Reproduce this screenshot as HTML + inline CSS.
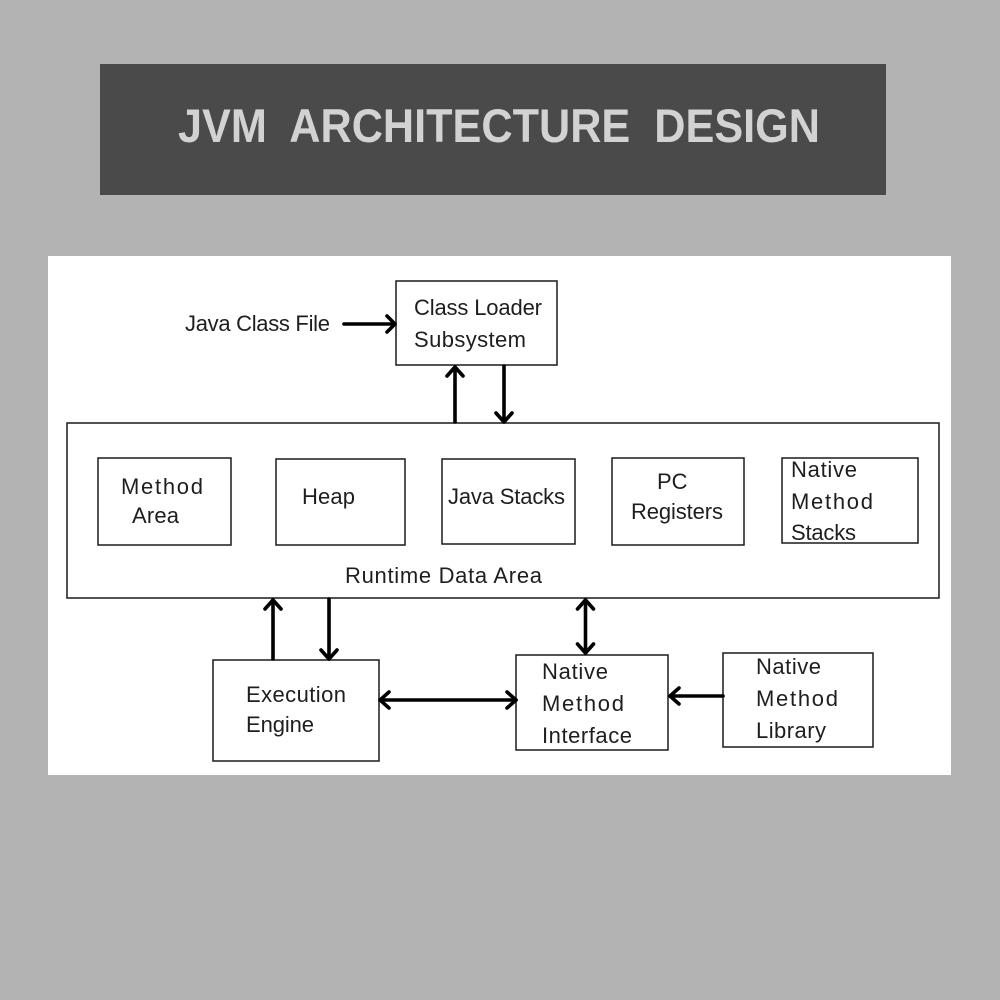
<!DOCTYPE html>
<html>
<head>
<meta charset="utf-8">
<style>
  html, body { margin: 0; padding: 0; background: #b3b3b3; }
  svg { display: block; }
  .t { font-family: "Liberation Sans", "DejaVu Sans", sans-serif; font-size: 22px; fill: #1e1e1e; }
  .box { fill: #ffffff; stroke: #1a1a1a; stroke-width: 1.5; }
  .ar { stroke: #000; stroke-width: 3.6; fill: none; stroke-linecap: round; stroke-linejoin: round; }
</style>
</head>
<body>
<svg width="1000" height="1000" viewBox="0 0 1000 1000" xmlns="http://www.w3.org/2000/svg">
  <rect x="0" y="0" width="1000" height="1000" fill="#b3b3b3"/>
  <!-- Title -->
  <rect x="100" y="64" width="786" height="131" fill="#4a4a4a"/>
  <text x="178" y="142" textLength="642" lengthAdjust="spacingAndGlyphs" style="font-family:'Liberation Sans','DejaVu Sans',sans-serif;font-weight:bold;font-size:47px;fill:#d2d2d2;" xml:space="preserve">JVM  ARCHITECTURE  DESIGN</text>

  <!-- White panel -->
  <rect x="48" y="256" width="903" height="519" fill="#ffffff"/>

  <!-- Boxes -->
  <rect class="box" x="396" y="281" width="161" height="84"/>
  <rect class="box" x="67" y="423" width="872" height="175"/>
  <rect class="box" x="98" y="458" width="133" height="87"/>
  <rect class="box" x="276" y="459" width="129" height="86"/>
  <rect class="box" x="442" y="459" width="133" height="85"/>
  <rect class="box" x="612" y="458" width="132" height="87"/>
  <rect class="box" x="782" y="458" width="136" height="85"/>
  <rect class="box" x="213" y="660" width="166" height="101"/>
  <rect class="box" x="516" y="655" width="152" height="95"/>
  <rect class="box" x="723" y="653" width="150" height="94"/>

  <!-- Text -->
  <text class="t" x="185" y="331" textLength="145" lengthAdjust="spacing">Java Class File</text>
  <text class="t" x="414" y="315" textLength="128" lengthAdjust="spacing">Class Loader</text>
  <text class="t" x="414" y="347" textLength="112" lengthAdjust="spacing">Subsystem</text>

  <text class="t" x="121" y="494" textLength="82" lengthAdjust="spacing">Method</text>
  <text class="t" x="132" y="523" textLength="47" lengthAdjust="spacing">Area</text>
  <text class="t" x="302" y="504" textLength="53" lengthAdjust="spacing">Heap</text>
  <text class="t" x="448" y="504" textLength="117" lengthAdjust="spacing">Java Stacks</text>
  <text class="t" x="657" y="489">PC</text>
  <text class="t" x="631" y="519" textLength="92" lengthAdjust="spacing">Registers</text>
  <text class="t" x="791" y="477" textLength="66" lengthAdjust="spacing">Native</text>
  <text class="t" x="791" y="509" textLength="82" lengthAdjust="spacing">Method</text>
  <text class="t" x="791" y="540" textLength="65" lengthAdjust="spacing">Stacks</text>
  <text class="t" x="345" y="583" textLength="197" lengthAdjust="spacing">Runtime Data Area</text>

  <text class="t" x="246" y="702" textLength="100" lengthAdjust="spacing">Execution</text>
  <text class="t" x="246" y="732" textLength="68" lengthAdjust="spacing">Engine</text>

  <text class="t" x="542" y="679" textLength="66" lengthAdjust="spacing">Native</text>
  <text class="t" x="542" y="711" textLength="82" lengthAdjust="spacing">Method</text>
  <text class="t" x="542" y="743" textLength="90" lengthAdjust="spacing">Interface</text>

  <text class="t" x="756" y="674" textLength="65" lengthAdjust="spacing">Native</text>
  <text class="t" x="756" y="706" textLength="82" lengthAdjust="spacing">Method</text>
  <text class="t" x="756" y="738" textLength="70" lengthAdjust="spacing">Library</text>

  <!-- Arrows -->
  <line class="ar" x1="344" y1="324" x2="395" y2="324"/>
  <polyline class="ar" points="387,316 395,324 387,332"/>

  <line class="ar" x1="455" y1="422" x2="455" y2="367"/>
  <polyline class="ar" points="447,376 455,367 463,376"/>

  <line class="ar" x1="504" y1="366" x2="504" y2="422"/>
  <polyline class="ar" points="496,413 504,422 512,413"/>

  <line class="ar" x1="273" y1="659" x2="273" y2="600"/>
  <polyline class="ar" points="265,609 273,600 281,609"/>

  <line class="ar" x1="329" y1="599" x2="329" y2="659"/>
  <polyline class="ar" points="321,650 329,659 337,650"/>

  <line class="ar" x1="585.5" y1="600" x2="585.5" y2="653"/>
  <polyline class="ar" points="577.5,609 585.5,600 593.5,609"/>
  <polyline class="ar" points="577.5,644 585.5,653 593.5,644"/>

  <line class="ar" x1="380" y1="700" x2="516" y2="700"/>
  <polyline class="ar" points="389,692 380,700 389,708"/>
  <polyline class="ar" points="507,692 516,700 507,708"/>

  <line class="ar" x1="723" y1="696" x2="670" y2="696"/>
  <polyline class="ar" points="679,688 670,696 679,704"/>
</svg>
</body>
</html>
